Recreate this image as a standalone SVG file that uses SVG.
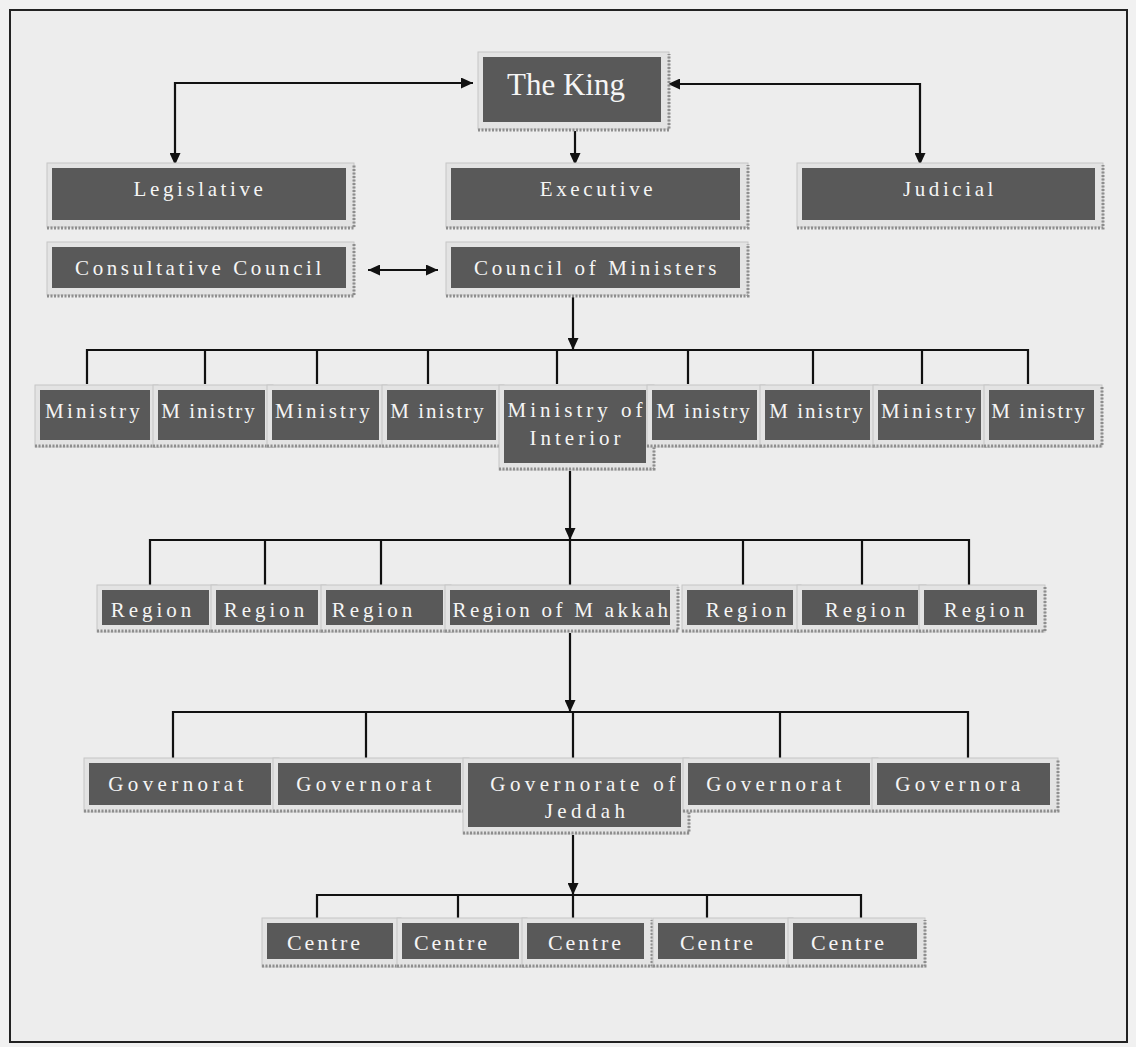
<svg xmlns="http://www.w3.org/2000/svg" width="1136" height="1047" viewBox="0 0 1136 1047">
<defs>
<marker id="arr" viewBox="0 0 12 11" refX="12" refY="5.5" markerWidth="12" markerHeight="11" markerUnits="userSpaceOnUse" orient="auto-start-reverse">
<path d="M0,0 L12,5.5 L0,11 z" fill="#111"/>
</marker>
</defs>
<style>
.frame{fill:#e3e3e3;stroke:#c6c6c6;stroke-width:1}
.shadow{fill:none;stroke:#8e8e8e;stroke-width:3;stroke-dasharray:2 1.5}
.box{fill:#595959}
.t{font-family:"Liberation Serif","Times New Roman",serif;fill:#f5f5f5;font-size:21px;text-anchor:middle}
.king{font-size:31px}
.top{letter-spacing:3.6px}
.min{letter-spacing:3.2px}
.min2{letter-spacing:2px}
.int{letter-spacing:4px}
.reg{letter-spacing:4px}
.mak{letter-spacing:3.3px}
.gov{letter-spacing:4.4px}
.cen{font-size:22px;letter-spacing:2.9px}
.ln{fill:none;stroke:#111;stroke-width:2.2}
</style>
<rect x="0" y="0" width="1136" height="1047" fill="#f1f1f1"/>
<rect x="10" y="10" width="1117" height="1032" fill="#ededed" stroke="#222" stroke-width="2"/>

<g id="connectors">
<path class="ln" d="M473,83 H175 V165" marker-start="url(#arr)" marker-end="url(#arr)"/>
<path class="ln" d="M668,84 H920 V165" marker-start="url(#arr)" marker-end="url(#arr)"/>
<path class="ln" d="M575,131 V165" marker-end="url(#arr)"/>
<path class="ln" d="M368,270 H438" marker-start="url(#arr)" marker-end="url(#arr)"/>
<path class="ln" d="M573,297 V350" marker-end="url(#arr)"/>
<path class="ln" d="M87,384 V350 H1028 V384 M205,350 V384 M317,350 V384 M428,350 V384 M557,350 V384 M688,350 V384 M813,350 V384 M922,350 V384"/>
<path class="ln" d="M570,471 V540" marker-end="url(#arr)"/>
<path class="ln" d="M150,585 V540 H969 V585 M265,540 V585 M381,540 V585 M570,540 V585 M743,540 V585 M862,540 V585"/>
<path class="ln" d="M570,633 V712" marker-end="url(#arr)"/>
<path class="ln" d="M173,758 V712 H968 V758 M366,712 V758 M573,712 V758 M780,712 V758"/>
<path class="ln" d="M573,835 V895" marker-end="url(#arr)"/>
<path class="ln" d="M317,918 V895 H861 V918 M458,895 V918 M573,895 V918 M707,895 V918"/>
</g>

<g id="node-king">
<rect class="frame" x="478" y="52" width="191" height="77"/>
<path class="shadow" d="M478,130 H669 V54"/>
<rect class="box" x="483" y="57" width="178" height="65"/>
<text class="t king" x="566" y="95">The King</text>
</g>

<g id="node-legislative">
<rect class="frame" x="47" y="163" width="307" height="64"/>
<path class="shadow" d="M47,228 H354 V165"/>
<rect class="box" x="52" y="168" width="294" height="52"/>
<text class="t top" x="200" y="196">Legislative</text>
</g>
<g id="node-executive">
<rect class="frame" x="446" y="163" width="302" height="64"/>
<path class="shadow" d="M446,228 H748 V165"/>
<rect class="box" x="451" y="168" width="289" height="52"/>
<text class="t top" x="598" y="196">Executive</text>
</g>
<g id="node-judicial">
<rect class="frame" x="797" y="163" width="306" height="64"/>
<path class="shadow" d="M797,228 H1103 V165"/>
<rect class="box" x="802" y="168" width="293" height="52"/>
<text class="t top" x="950" y="196">Judicial</text>
</g>
<g id="node-consultative">
<rect class="frame" x="47" y="242" width="307" height="53"/>
<path class="shadow" d="M47,296 H354 V244"/>
<rect class="box" x="52" y="247" width="294" height="41"/>
<text class="t top" x="200" y="275">Consultative Council</text>
</g>
<g id="node-council">
<rect class="frame" x="446" y="242" width="302" height="53"/>
<path class="shadow" d="M446,296 H748 V244"/>
<rect class="box" x="451" y="247" width="289" height="41"/>
<text class="t top" x="597" y="275">Council of Ministers</text>
</g>

<g id="node-ministry-1">
<rect class="frame" x="35" y="385" width="123" height="62"/>
<path class="shadow" d="M35,446 H158 V387"/>
<rect class="box" x="40" y="390" width="110" height="50"/>
<text class="t min" x="94" y="418">Ministry</text>
</g>
<g id="node-ministry-2">
<rect class="frame" x="153" y="385" width="120" height="62"/>
<path class="shadow" d="M153,446 H273 V387"/>
<rect class="box" x="158" y="390" width="107" height="50"/>
<text class="t min2" x="209" y="418">M inistry</text>
</g>
<g id="node-ministry-3">
<rect class="frame" x="267" y="385" width="120" height="62"/>
<path class="shadow" d="M267,446 H387 V387"/>
<rect class="box" x="272" y="390" width="107" height="50"/>
<text class="t min" x="324" y="418">Ministry</text>
</g>
<g id="node-ministry-4">
<rect class="frame" x="382" y="385" width="122" height="62"/>
<path class="shadow" d="M382,446 H504 V387"/>
<rect class="box" x="387" y="390" width="109" height="50"/>
<text class="t min2" x="438" y="418">M inistry</text>
</g>
<g id="node-ministry-interior">
<rect class="frame" x="499" y="385" width="155" height="85"/>
<path class="shadow" d="M499,469 H654 V387"/>
<rect class="box" x="504" y="390" width="142" height="73"/>
<text class="t int" x="577" y="417">Ministry of</text>
<text class="t int" x="577" y="445">Interior</text>
</g>
<g id="node-ministry-6">
<rect class="frame" x="647" y="385" width="118" height="62"/>
<path class="shadow" d="M647,446 H765 V387"/>
<rect class="box" x="652" y="390" width="105" height="50"/>
<text class="t min2" x="704" y="418">M inistry</text>
</g>
<g id="node-ministry-7">
<rect class="frame" x="760" y="385" width="118" height="62"/>
<path class="shadow" d="M760,446 H878 V387"/>
<rect class="box" x="765" y="390" width="105" height="50"/>
<text class="t min2" x="817" y="418">M inistry</text>
</g>
<g id="node-ministry-8">
<rect class="frame" x="873" y="385" width="116" height="62"/>
<path class="shadow" d="M873,446 H989 V387"/>
<rect class="box" x="878" y="390" width="103" height="50"/>
<text class="t min" x="930" y="418">Ministry</text>
</g>
<g id="node-ministry-9">
<rect class="frame" x="984" y="385" width="118" height="62"/>
<path class="shadow" d="M984,446 H1102 V387"/>
<rect class="box" x="989" y="390" width="105" height="50"/>
<text class="t min2" x="1039" y="418">M inistry</text>
</g>

<g id="node-region-1">
<rect class="frame" x="97" y="585" width="120" height="47"/>
<path class="shadow" d="M97,631 H217 V587"/>
<rect class="box" x="102" y="590" width="107" height="35"/>
<text class="t reg" x="153" y="617">Region</text>
</g>
<g id="node-region-2">
<rect class="frame" x="211" y="585" width="115" height="47"/>
<path class="shadow" d="M211,631 H326 V587"/>
<rect class="box" x="216" y="590" width="102" height="35"/>
<text class="t reg" x="266" y="617">Region</text>
</g>
<g id="node-region-3">
<rect class="frame" x="321" y="585" width="130" height="47"/>
<path class="shadow" d="M321,631 H451 V587"/>
<rect class="box" x="326" y="590" width="117" height="35"/>
<text class="t reg" x="374" y="617">Region</text>
</g>
<g id="node-region-makkah">
<rect class="frame" x="445" y="585" width="233" height="47"/>
<path class="shadow" d="M445,631 H678 V587"/>
<rect class="box" x="450" y="590" width="220" height="35"/>
<text class="t mak" x="562" y="617">Region of M akkah</text>
</g>
<g id="node-region-5">
<rect class="frame" x="682" y="585" width="119" height="47"/>
<path class="shadow" d="M682,631 H801 V587"/>
<rect class="box" x="687" y="590" width="106" height="35"/>
<text class="t reg" x="748" y="617">Region</text>
</g>
<g id="node-region-6">
<rect class="frame" x="797" y="585" width="129" height="47"/>
<path class="shadow" d="M797,631 H926 V587"/>
<rect class="box" x="802" y="590" width="116" height="35"/>
<text class="t reg" x="867" y="617">Region</text>
</g>
<g id="node-region-7">
<rect class="frame" x="919" y="585" width="126" height="47"/>
<path class="shadow" d="M919,631 H1045 V587"/>
<rect class="box" x="924" y="590" width="113" height="35"/>
<text class="t reg" x="986" y="617">Region</text>
</g>

<g id="node-gov-1">
<rect class="frame" x="84" y="758" width="195" height="54"/>
<path class="shadow" d="M84,811 H279 V760"/>
<rect class="box" x="89" y="763" width="182" height="42"/>
<text class="t gov" x="178" y="791">Governorat</text>
</g>
<g id="node-gov-2">
<rect class="frame" x="273" y="758" width="196" height="54"/>
<path class="shadow" d="M273,811 H469 V760"/>
<rect class="box" x="278" y="763" width="183" height="42"/>
<text class="t gov" x="366" y="791">Governorat</text>
</g>
<g id="node-gov-jeddah">
<rect class="frame" x="463" y="758" width="226" height="76"/>
<path class="shadow" d="M463,833 H689 V760"/>
<rect class="box" x="468" y="763" width="213" height="64"/>
<text class="t gov" x="585" y="791">Governorate of</text>
<text class="t gov" x="587" y="818">Jeddah</text>
</g>
<g id="node-gov-4">
<rect class="frame" x="683" y="758" width="195" height="54"/>
<path class="shadow" d="M683,811 H878 V760"/>
<rect class="box" x="688" y="763" width="182" height="42"/>
<text class="t gov" x="776" y="791">Governorat</text>
</g>
<g id="node-gov-5">
<rect class="frame" x="872" y="758" width="186" height="54"/>
<path class="shadow" d="M872,811 H1058 V760"/>
<rect class="box" x="877" y="763" width="173" height="42"/>
<text class="t gov" x="960" y="791">Governora</text>
</g>

<g id="node-centre-1">
<rect class="frame" x="262" y="918" width="139" height="49"/>
<path class="shadow" d="M262,966 H401 V920"/>
<rect class="box" x="267" y="923" width="126" height="36"/>
<text class="t cen" x="325" y="950">Centre</text>
</g>
<g id="node-centre-2">
<rect class="frame" x="397" y="918" width="130" height="49"/>
<path class="shadow" d="M397,966 H527 V920"/>
<rect class="box" x="402" y="923" width="117" height="36"/>
<text class="t cen" x="452" y="950">Centre</text>
</g>
<g id="node-centre-3">
<rect class="frame" x="522" y="918" width="130" height="49"/>
<path class="shadow" d="M522,966 H652 V920"/>
<rect class="box" x="527" y="923" width="117" height="36"/>
<text class="t cen" x="586" y="950">Centre</text>
</g>
<g id="node-centre-4">
<rect class="frame" x="653" y="918" width="140" height="49"/>
<path class="shadow" d="M653,966 H793 V920"/>
<rect class="box" x="658" y="923" width="127" height="36"/>
<text class="t cen" x="718" y="950">Centre</text>
</g>
<g id="node-centre-5">
<rect class="frame" x="788" y="918" width="137" height="49"/>
<path class="shadow" d="M788,966 H925 V920"/>
<rect class="box" x="793" y="923" width="124" height="36"/>
<text class="t cen" x="849" y="950">Centre</text>
</g>
</svg>
